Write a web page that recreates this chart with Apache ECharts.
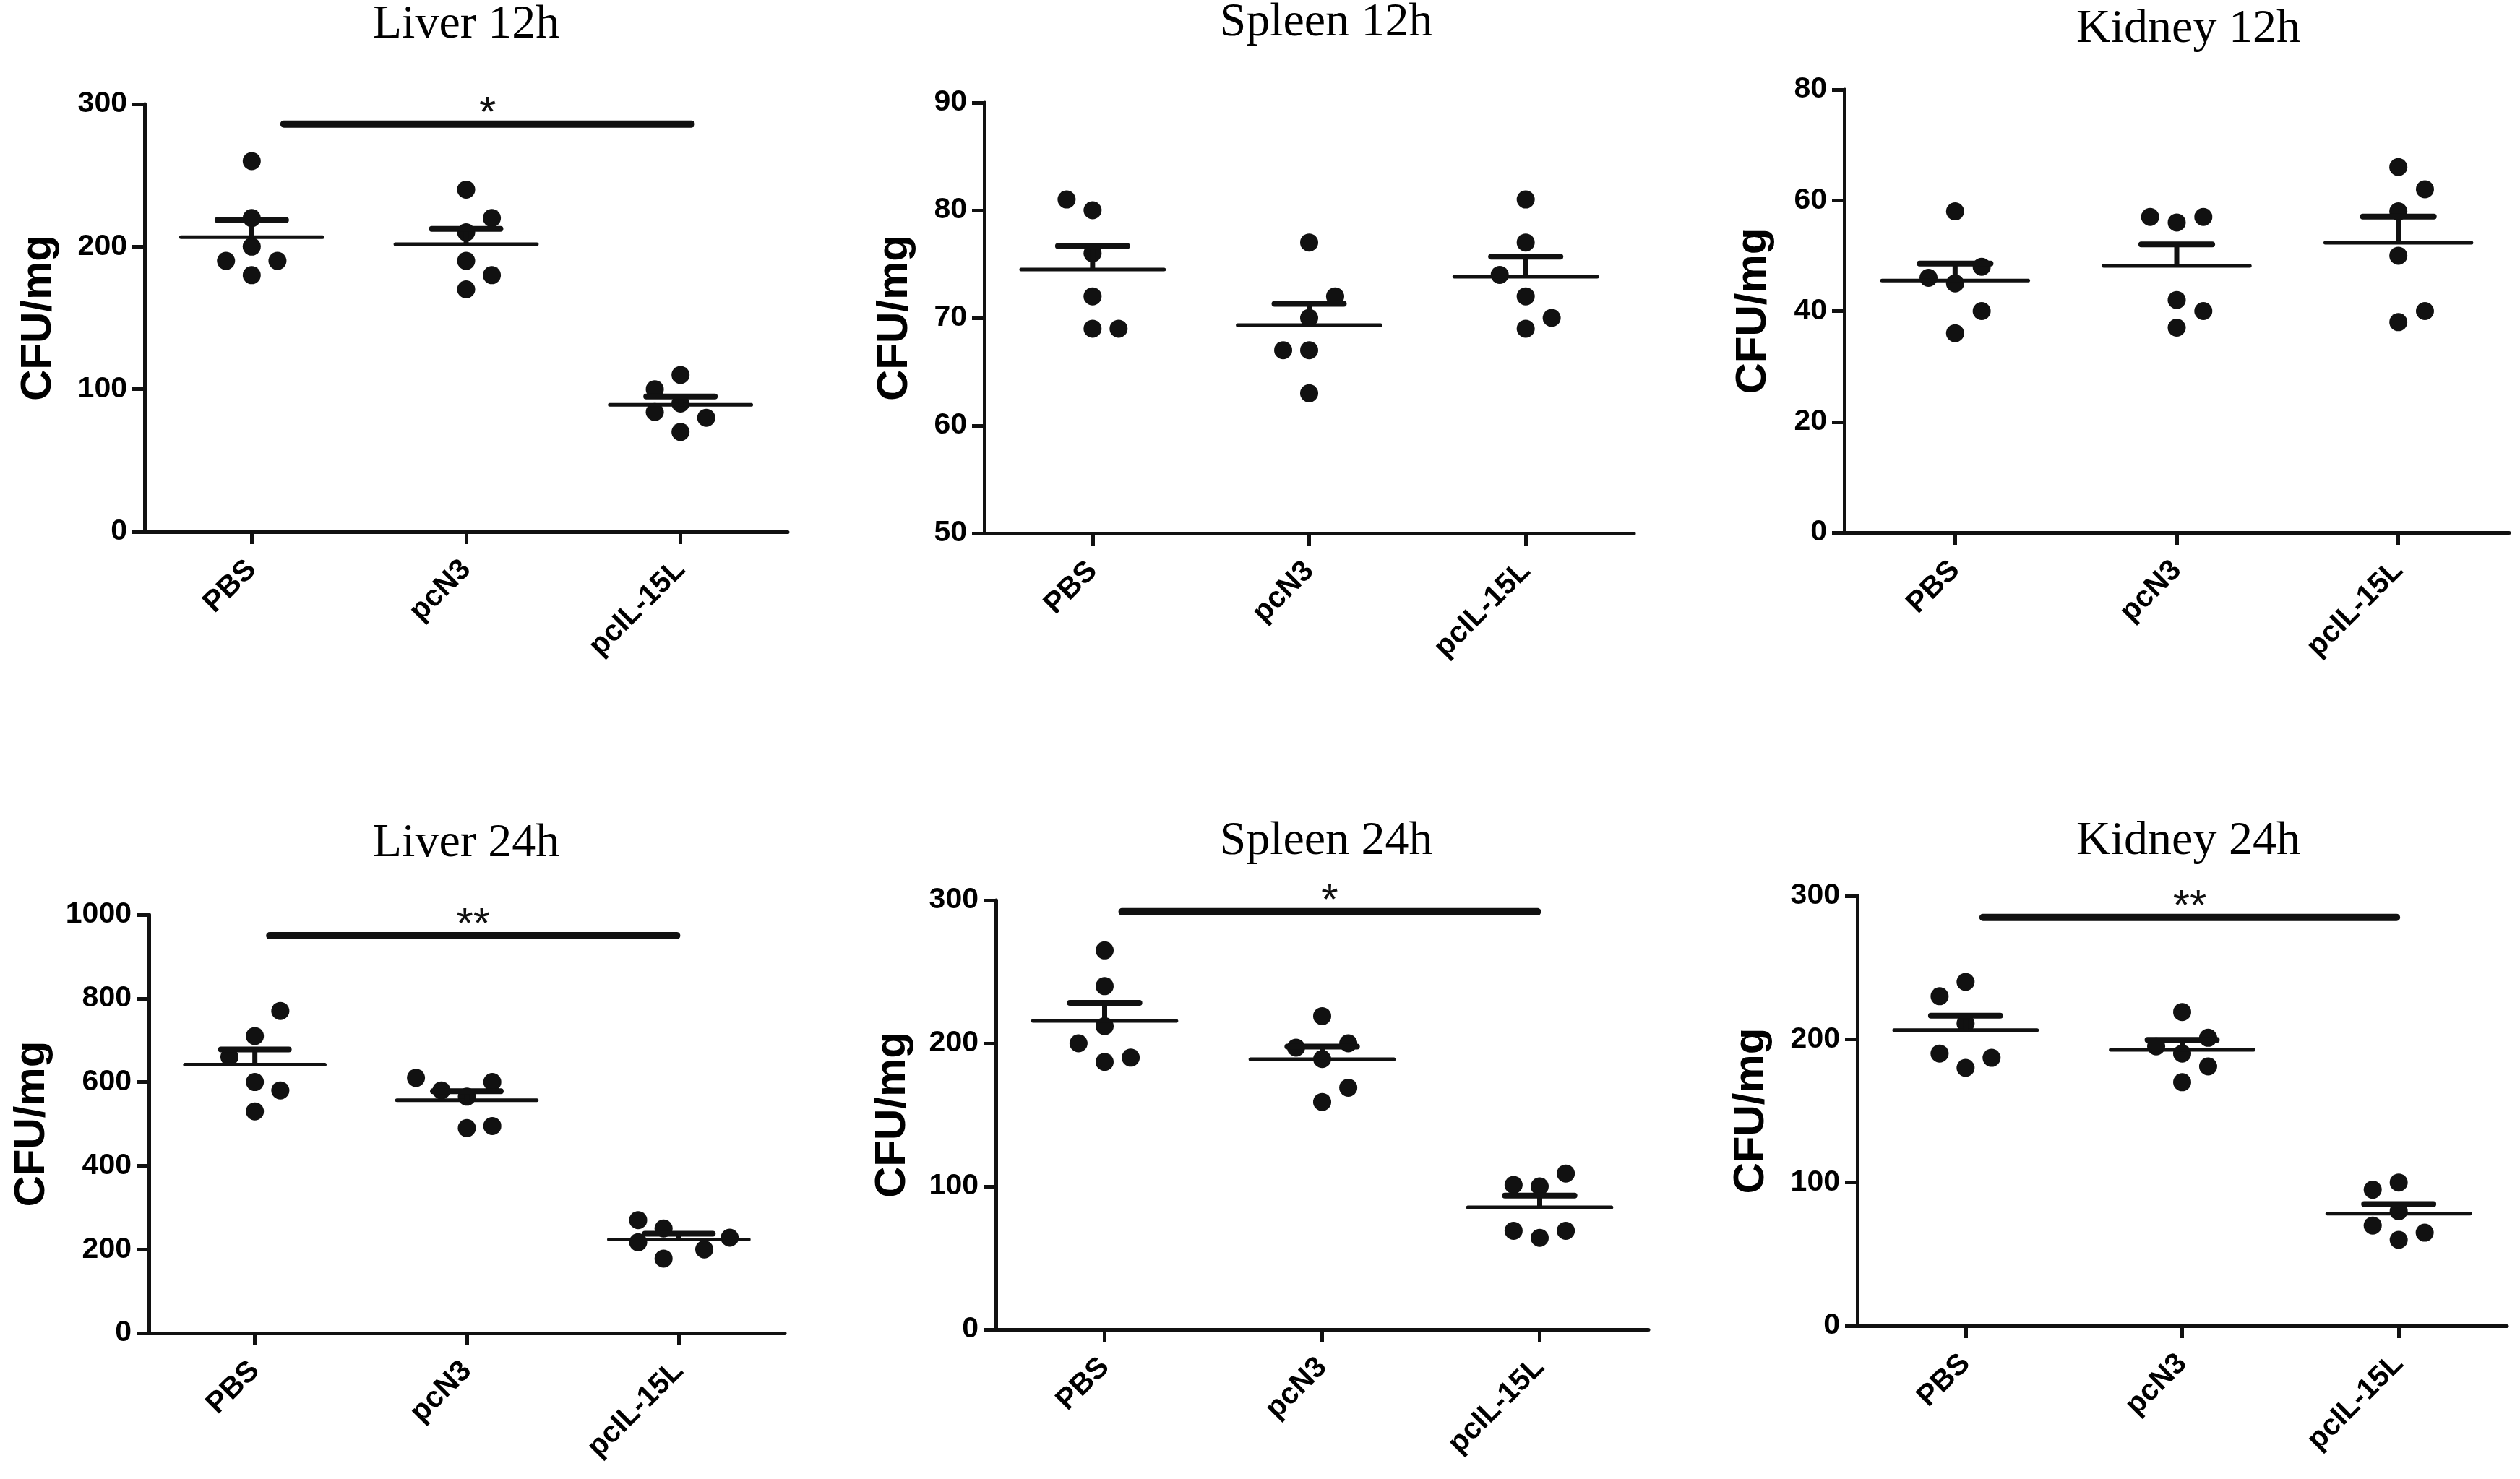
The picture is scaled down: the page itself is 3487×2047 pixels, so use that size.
<!DOCTYPE html>
<html><head><meta charset="utf-8">
<script src="https://cdn.jsdelivr.net/npm/echarts@6/dist/echarts.min.js"></script>
<style>html,body{margin:0;padding:0;background:#fff}#c{width:3487px;height:2047px}</style>
</head><body><div id="c"></div>
<script>
// ---------- DATA ----------
const categories = ['PBS', 'pcN3', 'pcIL-15L'];
const panelTitles = ['Liver 12h', 'Spleen 12h', 'Kidney 12h', 'Liver 24h', 'Spleen 24h', 'Kidney 24h'];
const yAxisName = 'CFU/mg';
const yMin = [0, 50, 0, 0, 0, 0];
const yMax = [300, 90, 80, 1000, 300, 300];
const yInterval = [100, 10, 20, 200, 100, 100];

// individual animals per group (PBS, pcN3, pcIL-15L)
const liver12h  = [[260, 220, 200, 190, 190, 180], [240, 220, 210, 190, 180, 170], [110, 100, 90, 84, 80, 70]];
const spleen12h = [[81, 80, 76, 72, 69, 69], [77, 72, 70, 67, 67, 63], [81, 77, 74, 72, 70, 69]];
const kidney12h = [[58, 48, 46, 45, 40, 36], [57, 56, 57, 42, 40, 37], [66, 62, 58, 50, 40, 38]];
const liver24h  = [[770, 710, 660, 600, 580, 530], [610, 600, 580, 565, 490, 495], [270, 250, 228, 217, 200, 178]];
const spleen24h = [[265, 240, 212, 200, 190, 187], [219, 200, 197, 189, 169, 159], [109, 101, 100, 69, 64, 69]];
const kidney24h = [[240, 230, 211, 190, 187, 180], [219, 201, 195, 190, 181, 170], [100, 95, 80, 70, 65, 60]];

// horizontal scatter offset of each dot, in dot-steps, as seen in the picture
const liver12hJitter  = [[0, 0, 0, -1, 1, 0], [0, 1, 0, 0, 1, 0], [0, -1, 0, -1, 1, 0]];
const spleen12hJitter = [[-1, 0, 0, 0, 0, 1], [0, 1, 0, -1, 0, 0], [0, 0, -1, 0, 1, 0]];
const kidney12hJitter = [[0, 1, -1, 0, 1, 0], [-1, 0, 1, 0, 1, 0], [0, 1, 0, 0, 1, 0]];
const liver24hJitter  = [[1, 0, -1, 0, 1, 0], [-2, 1, -1, 0, 0, 1], [-1.6, -0.6, 2, -1.6, 1, -0.6]];
const spleen24hJitter = [[0, 0, 0, -1, 1, 0], [0, 1, -1, 0, 1, 0], [1, -1, 0, -1, 0, 1]];
const kidney24hJitter = [[0, -1, 0, -1, 1, 0], [0, 1, -1, 0, 1, 0], [0, -1, 0, -1, 1, 0]];

// significance annotations
const sigPanel = [0, 3, 4, 5];
const sigFrom  = [0.15, 0.07, 0.08, 0.08];
const sigTo    = [2.05, 1.99, 1.99, 1.99];
const sigLevel = [286, 950, 292, 285];
const sigText  = ['*', '**', '*', '**'];

const panelValues = [liver12h, spleen12h, kidney12h, liver24h, spleen24h, kidney24h];
const panelJitter = [liver12hJitter, spleen12hJitter, kidney12hJitter, liver24hJitter, spleen24hJitter, kidney24hJitter];

// ---------- LAYOUT ----------
const grids = [
  {left: 200,  top: 144,  width: 890, height: 592},
  {left: 1362, top: 142,  width: 899, height: 596},
  {left: 2552, top: 124,  width: 920, height: 613},
  {left: 206,  top: 1266, width: 880, height: 579},
  {left: 1378, top: 1246, width: 903, height: 594},
  {left: 2570, top: 1240, width: 899, height: 595}
];
const titleX = [645, 1835, 3028, 645, 1835, 3028];
const titleY = [2, -1, 8, 1135, 1132, 1132];
const nameGaps = [117, 94, 96, 132, 113, 117];
const JSTEP = 0.12;
const INK = '#111';
const SANS = '"Liberation Sans", Arial, sans-serif';

function stats(arr) {
  const n = arr.length;
  const m = arr.reduce((a, b) => a + b, 0) / n;
  const v = arr.reduce((a, b) => a + (b - m) * (b - m), 0) / (n - 1);
  return [m, Math.sqrt(v) / Math.sqrt(n)];
}

const option = {
  animation: false,
  backgroundColor: '#fff',
  grid: grids,
  xAxis: [],
  yAxis: [],
  series: [],
  graphic: []
};

grids.forEach((g, k) => {
  option.xAxis.push({
    type: 'category', gridIndex: k, data: categories, boundaryGap: true,
    axisLine: {show: true, onZero: false, lineStyle: {color: INK, width: 5}},
    axisTick: {show: true, alignWithLabel: true, length: 17, lineStyle: {color: INK, width: 5}},
    axisLabel: {rotate: 45, margin: 46, color: '#000', fontSize: 41, fontWeight: 'bold', fontFamily: SANS},
    splitLine: {show: false}
  });
  option.xAxis.push({
    type: 'value', gridIndex: k, min: -0.5, max: 2.5, show: false,
    axisLine: {onZero: false}
  });
  option.yAxis.push({
    type: 'value', gridIndex: k, min: yMin[k], max: yMax[k], interval: yInterval[k],
    name: yAxisName, nameLocation: 'middle', nameGap: nameGaps[k],
    nameTextStyle: {color: '#000', fontSize: 60, fontWeight: 'bold', fontFamily: SANS},
    axisLine: {show: true, onZero: false, lineStyle: {color: INK, width: 5}},
    axisTick: {show: true, length: 17, lineStyle: {color: INK, width: 5}},
    axisLabel: {margin: 24, color: '#000', fontSize: 41, fontWeight: 'bold', fontFamily: SANS,
                formatter: v => String(v)},
    splitLine: {show: false}
  });

  const vals = panelValues[k], jit = panelJitter[k];
  const pts = [];
  const ms = [];
  vals.forEach((grp, gi) => {
    grp.forEach((v, i) => pts.push([gi + jit[gi][i] * JSTEP, v]));
    const s = stats(grp);
    ms.push([gi, s[0], s[1]]);
  });

  option.series.push({
    type: 'scatter', xAxisIndex: 2 * k + 1, yAxisIndex: k,
    data: pts, symbol: 'circle', symbolSize: 25,
    itemStyle: {color: INK, opacity: 1}, clip: false, z: 3
  });
  option.series.push({
    type: 'custom', xAxisIndex: 2 * k + 1, yAxisIndex: k, clip: false, z: 4,
    data: ms, encode: {x: 0, y: 1},
    renderItem: function (params, api) {
      const gx = api.value(0), m = api.value(1), s = api.value(2);
      const pL = api.coord([gx - 0.33, m]), pR = api.coord([gx + 0.33, m]);
      const pB = api.coord([gx, m]), pT = api.coord([gx, m + s]);
      const cL = api.coord([gx - 0.16, m + s]), cR = api.coord([gx + 0.16, m + s]);
      return {type: 'group', children: [
        {type: 'line', shape: {x1: pL[0], y1: pL[1], x2: pR[0], y2: pR[1]}, style: {stroke: INK, lineWidth: 5, lineCap: 'round'}},
        {type: 'line', shape: {x1: pB[0], y1: pB[1], x2: pT[0], y2: pT[1]}, style: {stroke: INK, lineWidth: 7}},
        {type: 'line', shape: {x1: cL[0], y1: cL[1], x2: cR[0], y2: cR[1]}, style: {stroke: INK, lineWidth: 8, lineCap: 'round'}}
      ]};
    }
  });

  option.graphic.push({
    type: 'text', x: titleX[k], y: titleY[k], silent: true,
    style: {text: panelTitles[k], fill: '#000', font: '66px "Liberation Serif", "Times New Roman", serif', textAlign: 'center', textVerticalAlign: 'top'}
  });
});

sigPanel.forEach((k, i) => {
  option.series.push({
    type: 'custom', xAxisIndex: 2 * k + 1, yAxisIndex: k, clip: false, z: 5,
    data: [[sigFrom[i], sigTo[i], sigLevel[i]]], encode: {x: [0, 1], y: 2},
    renderItem: function (params, api) {
      const a = api.coord([api.value(0), api.value(2)]);
      const b = api.coord([api.value(1), api.value(2)]);
      return {type: 'group', children: [
        {type: 'line', shape: {x1: a[0], y1: a[1], x2: b[0], y2: b[1]}, style: {stroke: INK, lineWidth: 10, lineCap: 'round'}},
        {type: 'text', x: (a[0] + b[0]) / 2, y: a[1] - 13,
         style: {text: sigText[i], fill: INK, font: '60px ' + SANS, textAlign: 'center', textVerticalAlign: 'middle'}}
      ]};
    }
  });
});

const chart = echarts.init(document.getElementById('c'), null, {renderer: 'canvas'});
chart.setOption(option);
</script>
</body></html>
